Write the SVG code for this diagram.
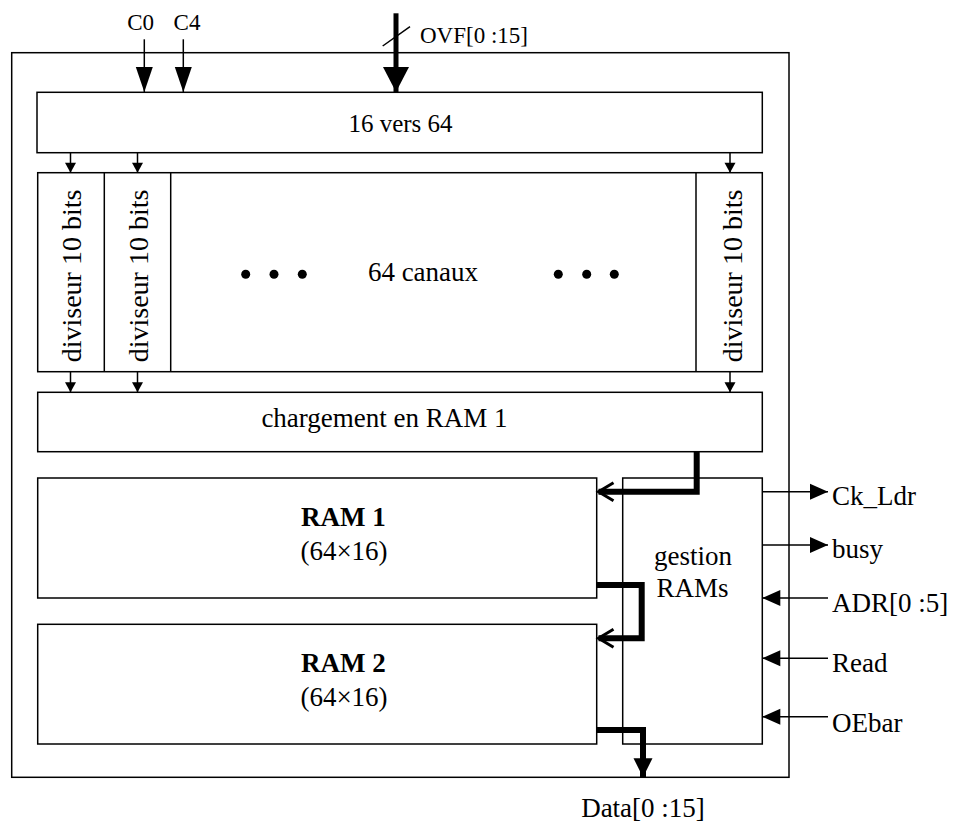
<svg xmlns="http://www.w3.org/2000/svg" width="953" height="822" viewBox="0 0 953 822">
<style>
.box{fill:none;stroke:#000;stroke-width:1.5}
.t{font-family:"Liberation Serif","Times New Roman",serif;font-size:27px;fill:#000}
.s{font-family:"Liberation Serif","Times New Roman",serif;font-size:23px;fill:#000}
.w{stroke:#000;stroke-width:1.5;fill:none}
.bus{stroke:#000;stroke-width:6;fill:none;stroke-linejoin:miter}
.dot{fill:#000}
</style>
<defs>
<marker id="sm" markerUnits="userSpaceOnUse" markerWidth="12" markerHeight="12" refX="10" refY="5.5" orient="auto" overflow="visible"><path d="M0,0 L10,5.5 L0,11 z" fill="#000"/></marker>
<marker id="md" markerUnits="userSpaceOnUse" markerWidth="26" markerHeight="18" refX="25" refY="8.5" orient="auto" overflow="visible"><path d="M0,0 L25,8.5 L0,17 z" fill="#000"/></marker>
<marker id="lg" markerUnits="userSpaceOnUse" markerWidth="26" markerHeight="26" refX="25" refY="13" orient="auto" overflow="visible"><path d="M0,0 L25,13 L0,26 z" fill="#000"/></marker>
<marker id="io" markerUnits="userSpaceOnUse" markerWidth="19" markerHeight="16" refX="18" refY="8" orient="auto" overflow="visible"><path d="M0,0 L18,8 L0,16 z" fill="#000"/></marker>
<marker id="dt" markerUnits="userSpaceOnUse" markerWidth="20" markerHeight="20" refX="19" refY="9.5" orient="auto" overflow="visible"><path d="M0,0 L19,9.5 L0,19 z" fill="#000"/></marker>
<marker id="ch" markerUnits="userSpaceOnUse" markerWidth="16" markerHeight="20" refX="15" refY="9" orient="auto" overflow="visible"><path d="M0,0 L15,9 L0,18" fill="none" stroke="#000" stroke-width="3"/></marker>
</defs>

<g id="frame"><rect class="box" x="11.7" y="52.7" width="777.3" height="724.6"/></g>

<g id="n16vers64">
<rect class="box" x="37" y="92.3" width="725.3" height="60.4"/>
<text class="t" x="400.5" y="132.3" text-anchor="middle" style="font-size:25px">16 vers 64</text>
</g>

<g id="canaux">
<rect class="box" x="37.7" y="172.7" width="724.6" height="199"/>
<line class="w" x1="104.3" y1="172.7" x2="104.3" y2="371.7"/>
<line class="w" x1="170.7" y1="172.7" x2="170.7" y2="371.7"/>
<line class="w" x1="696" y1="172.7" x2="696" y2="371.7"/>
<text class="t" transform="translate(81,276) rotate(-90)" text-anchor="middle" style="font-size:28px">diviseur 10 bits</text>
<text class="t" transform="translate(148,276) rotate(-90)" text-anchor="middle" style="font-size:28px">diviseur 10 bits</text>
<text class="t" transform="translate(742,276) rotate(-90)" text-anchor="middle" style="font-size:28px">diviseur 10 bits</text>
<circle class="dot" cx="245.7" cy="274.3" r="4.5"/>
<circle class="dot" cx="274" cy="274.3" r="4.5"/>
<circle class="dot" cx="302.3" cy="274.3" r="4.5"/>
<circle class="dot" cx="558.3" cy="274.3" r="4.5"/>
<circle class="dot" cx="586.7" cy="274.3" r="4.5"/>
<circle class="dot" cx="614.3" cy="274.3" r="4.5"/>
<text class="t" x="423" y="280.7" text-anchor="middle">64 canaux</text>
</g>

<g id="chargement">
<rect class="box" x="37.7" y="392.3" width="724.6" height="59.4"/>
<text class="t" x="384.5" y="427.3" text-anchor="middle">chargement en RAM 1</text>
</g>

<g id="ram1">
<rect class="box" x="37.7" y="478" width="559" height="120"/>
<text class="t" x="343.3" y="526" text-anchor="middle" font-weight="bold">RAM 1</text>
<text class="t" x="344" y="560" text-anchor="middle">(64×16)</text>
</g>

<g id="ram2">
<rect class="box" x="37.7" y="624.3" width="559" height="119.7"/>
<text class="t" x="343.3" y="672" text-anchor="middle" font-weight="bold">RAM 2</text>
<text class="t" x="344" y="706" text-anchor="middle">(64×16)</text>
</g>

<g id="gestion">
<rect class="box" x="622.7" y="478" width="139.6" height="266"/>
<text class="t" x="693" y="565" text-anchor="middle">gestion</text>
<text class="t" x="692.5" y="596.7" text-anchor="middle">RAMs</text>
</g>

<g id="labels">
<text class="s" x="140.7" y="30" text-anchor="middle">C0</text>
<text class="s" x="187" y="30" text-anchor="middle">C4</text>
<text class="s" x="420" y="43.3">OVF[0 :15]</text>
<text class="t" x="832" y="505">Ck_Ldr</text>
<text class="t" x="832" y="558">busy</text>
<text class="t" x="832" y="611.7">ADR[0 :5]</text>
<text class="t" x="832" y="671.7">Read</text>
<text class="t" x="832" y="731.7">OEbar</text>
<text class="t" x="643" y="817" text-anchor="middle">Data[0 :15]</text>
</g>

<g id="connectors">
<line class="w" x1="144.3" y1="39.3" x2="144.3" y2="92" marker-end="url(#md)"/>
<line class="w" x1="183.3" y1="39.3" x2="183.3" y2="92" marker-end="url(#md)"/>
<line x1="396" y1="13.3" x2="396" y2="92" stroke="#000" stroke-width="5" marker-end="url(#lg)"/>
<line class="w" x1="382.7" y1="46" x2="410" y2="26.7"/>
<line class="w" x1="70.5" y1="152.7" x2="70.5" y2="172.7" marker-end="url(#sm)"/>
<line class="w" x1="137.5" y1="152.7" x2="137.5" y2="172.7" marker-end="url(#sm)"/>
<line class="w" x1="730" y1="152.7" x2="730" y2="172.7" marker-end="url(#sm)"/>
<line class="w" x1="70.5" y1="371.7" x2="70.5" y2="392.3" marker-end="url(#sm)"/>
<line class="w" x1="137.5" y1="371.7" x2="137.5" y2="392.3" marker-end="url(#sm)"/>
<line class="w" x1="730" y1="371.7" x2="730" y2="392.3" marker-end="url(#sm)"/>
<polyline class="bus" points="696.7,452 696.7,491.7 598.5,491.7" marker-end="url(#ch)"/>
<polyline class="bus" points="597,585 641.7,585 641.7,638.3 598.5,638.3" marker-end="url(#ch)"/>
<polyline class="bus" points="597,730 643,730 643,777.3" marker-end="url(#dt)"/>
<line class="w" x1="762.3" y1="491.7" x2="828" y2="491.7" marker-end="url(#io)"/>
<line class="w" x1="762.3" y1="545" x2="828" y2="545" marker-end="url(#io)"/>
<line class="w" x1="828" y1="598" x2="762.3" y2="598" marker-end="url(#io)"/>
<line class="w" x1="828" y1="658.3" x2="762.3" y2="658.3" marker-end="url(#io)"/>
<line class="w" x1="828" y1="716.7" x2="762.3" y2="716.7" marker-end="url(#io)"/>
</g>
</svg>
